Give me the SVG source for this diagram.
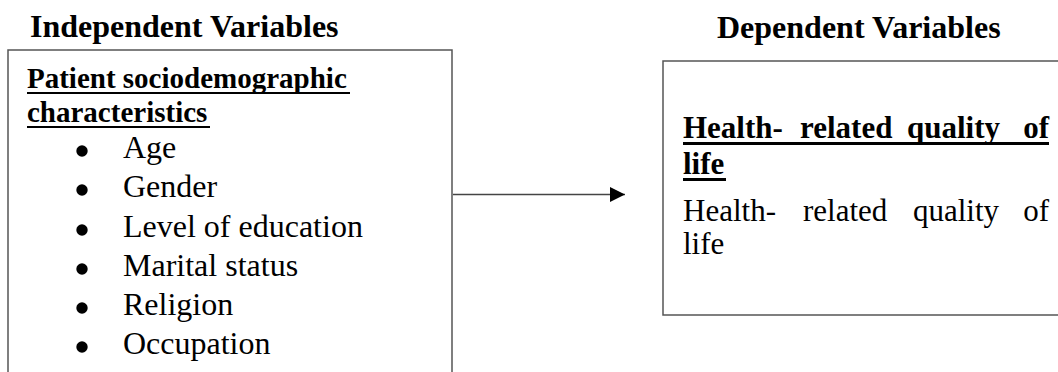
<svg xmlns="http://www.w3.org/2000/svg" width="1058" height="372" viewBox="0 0 1058 372">
<style>
.head{font-family:"Liberation Serif","Times New Roman",serif;font-weight:bold;font-size:32px;fill:#000}
.sub{font-family:"Liberation Serif","Times New Roman",serif;font-weight:bold;font-size:29px;fill:#000}
.rsub{font-family:"Liberation Serif","Times New Roman",serif;font-weight:bold;font-size:31px;fill:#000}
.body{font-family:"Liberation Serif","Times New Roman",serif;font-size:32px;fill:#000}
.rbody{font-family:"Liberation Serif","Times New Roman",serif;font-size:31px;fill:#000}
.box{fill:#fff;stroke:#555;stroke-width:1.5}
.ul{stroke:#000;stroke-width:2}
</style>
<defs>
<marker id="arr" markerWidth="16" markerHeight="16" refX="15" refY="8" orient="auto" markerUnits="userSpaceOnUse">
<polygon points="0,0.5 15,8 0,15.5" fill="#000"/>
</marker>
</defs>
<rect width="1058" height="372" fill="#fff"/>
<text class="head" x="30" y="37">Independent Variables</text>
<text class="head" x="717" y="38">Dependent Variables</text>
<g id="independent">
<rect class="box" x="8" y="50" width="444" height="340"/>
<text class="sub" x="27" y="88">Patient sociodemographic</text>
<line class="ul" x1="27" y1="93" x2="350" y2="93"/>
<text class="sub" x="27" y="122">characteristics</text>
<line class="ul" x1="27" y1="127" x2="210" y2="127"/>
<g fill="#000">
<circle cx="82" cy="151" r="5.7"/>
<circle cx="82" cy="190" r="5.7"/>
<circle cx="82" cy="230" r="5.7"/>
<circle cx="82" cy="269" r="5.7"/>
<circle cx="82" cy="308" r="5.7"/>
<circle cx="82" cy="347" r="5.7"/>
</g>
<text class="body" x="123" y="158">Age</text>
<text class="body" x="123" y="197">Gender</text>
<text class="body" x="123" y="237">Level of education</text>
<text class="body" x="123" y="276">Marital status</text>
<text class="body" x="123" y="315">Religion</text>
<text class="body" x="123" y="354">Occupation</text>
</g>
<g id="dependent">
<rect class="box" x="663" y="61" width="400" height="254"/>
<text class="rsub" x="683" y="138">Health-</text>
<text class="rsub" x="800" y="138">related</text>
<text class="rsub" x="907" y="138">quality</text>
<text class="rsub" x="1049" y="138" text-anchor="end">of</text>
<line x1="683" y1="143.5" x2="1049" y2="143.5" stroke="#000" stroke-width="3"/>
<text class="rsub" x="683" y="174">life</text>
<line x1="683" y1="179.5" x2="726" y2="179.5" stroke="#000" stroke-width="3"/>
<text class="rbody" x="683" y="221">Health-</text>
<text class="rbody" x="803" y="221">related</text>
<text class="rbody" x="913" y="221">quality</text>
<text class="rbody" x="1049" y="221" text-anchor="end">of</text>
<text class="rbody" x="683" y="254">life</text>
</g>
<g id="connectors">
<line x1="453" y1="194.5" x2="625" y2="194.5" stroke="#444" stroke-width="1.5" marker-end="url(#arr)"/>
</g>
</svg>
